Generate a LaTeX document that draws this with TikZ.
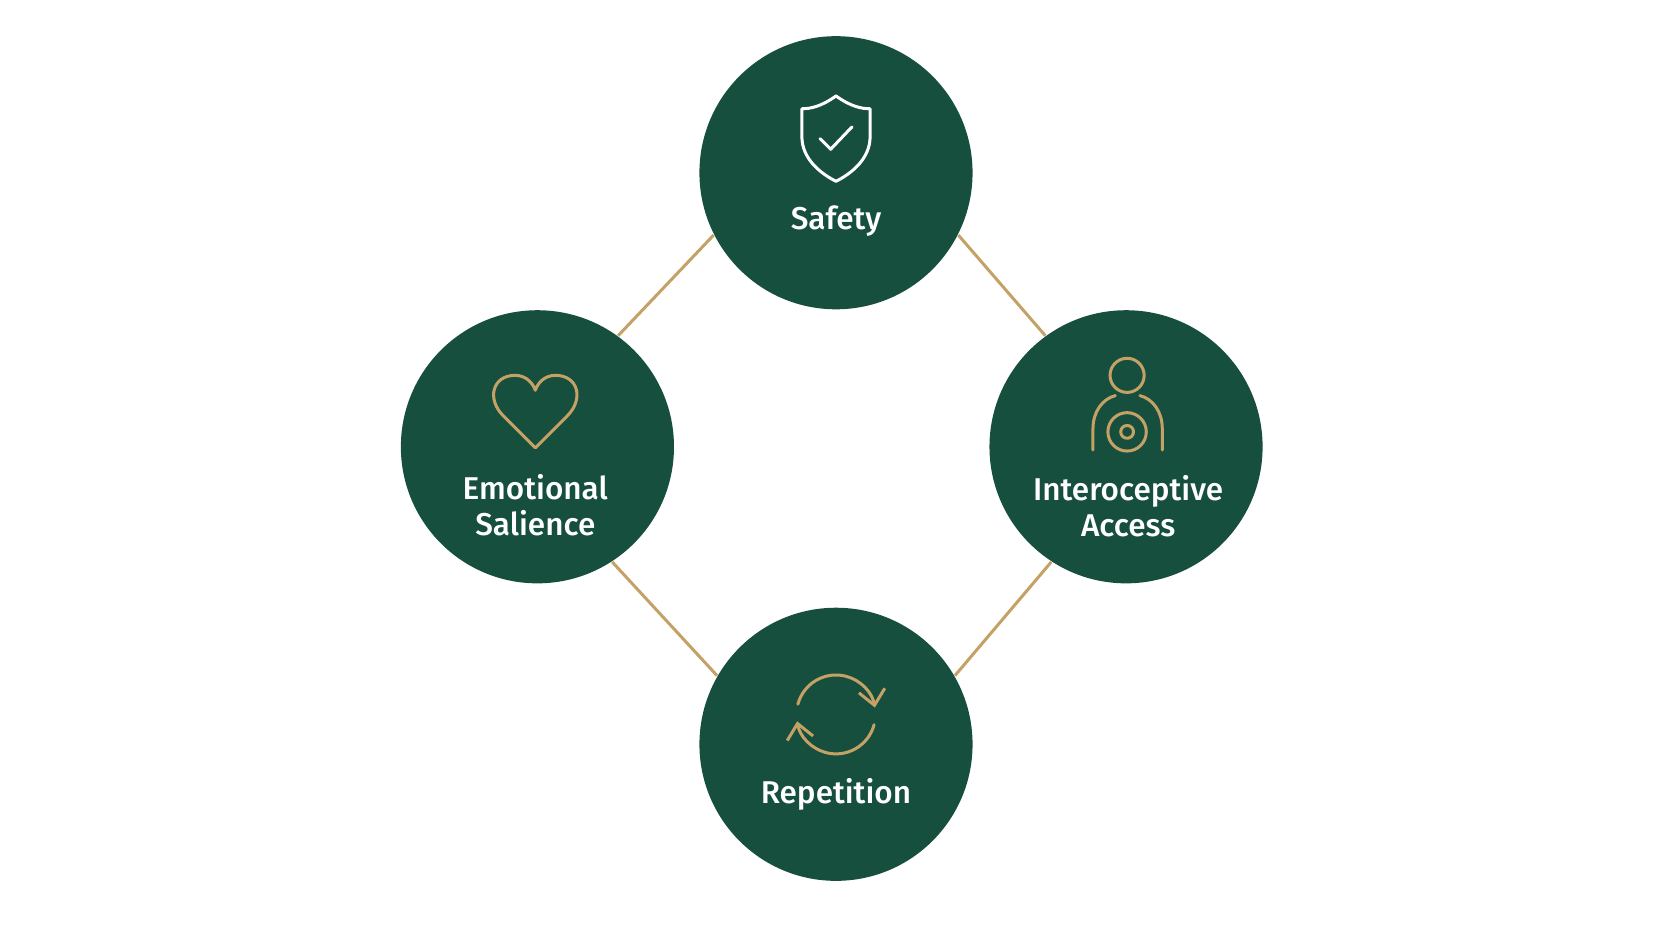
\documentclass[tikz,border=0pt]{standalone}
\usepackage{fontspec}
\setmainfont{Fira Sans Medium}
\usetikzlibrary{arrows.meta}
\definecolor{dg}{HTML}{174F3F}
\definecolor{gold}{HTML}{C4A265}
\begin{document}
\begin{tikzpicture}[x=0.01cm,y=-0.01cm,
  hub/.style={circle,fill=dg,draw=none,minimum size=2.56cm,inner sep=0pt},
  lbl/.style={text=white,font=\fontsize{8.4}{9.6}\selectfont,align=center},
  link/.style={draw=gold,line width=0.8pt},
  ic/.style={line width=0.8pt,line cap=round,line join=round}]
\useasboundingbox[fill=white] (0,0) rectangle (1568,882);
\node[hub] (s) at (784,162) {};
\node[hub] (e) at (504,419) {};
\node[hub] (i) at (1056,419) {};
\node[hub] (r) at (784,698) {};
\draw[link] (s.-153) -- (e.54); \draw[link] (s.-27) -- (i.126);
\draw[link] (e.-57) -- (r.150); \draw[link] (i.-123) -- (r.30);
\node[lbl] (ts) at (784,207) {Safety};
\node[lbl] (te) at (502,474) {Emotional\\Salience};
\node[lbl] (ti) at (1058,475) {Interoceptive\\Access};
\node[lbl] (tr) at (784,745) {Repetition};
% shield
\draw[ic,white] (784,90) .. controls (770,100) and (760,102) .. (752,102) -- (752,128)
  .. controls (752,148) and (768,162) .. (784,170) .. controls (800,162) and (816,148) .. (816,128)
  -- (816,102) .. controls (808,102) and (798,100) .. (784,90) -- cycle;
\draw[ic,white] (769,130) -- (779,140) -- (799,119);
% heart
\draw[ic,gold] (502,420) -- (472,390) .. controls (456,374) and (462,352) .. (483,352)
  .. controls (494,352) and (500,360) .. (502,366) .. controls (504,360) and (510,352) .. (521,352)
  .. controls (542,352) and (548,374) .. (532,390) -- cycle;
% person
\draw[ic,gold] (1057,352) circle (16);
\draw[ic,gold] (1025,422) -- (1025,402) .. controls (1025,386) and (1034,374) .. (1046,371);
\draw[ic,gold] (1090,422) -- (1090,402) .. controls (1090,386) and (1081,374) .. (1069,371);
\draw[ic,gold] (1057,405) circle (18);
\draw[ic,gold] (1057,405) circle (6);
% refresh
\coordinate (rc) at (784,670);
\draw[ic,gold,-{Straight Barb[length=4pt,width=7pt]}] ([shift={(-165:37)}]rc) arc (-165:-10:37);
\draw[ic,gold,-{Straight Barb[length=4pt,width=7pt]}] ([shift={(15:37)}]rc) arc (15:170:37);
\end{tikzpicture}
\end{document}
